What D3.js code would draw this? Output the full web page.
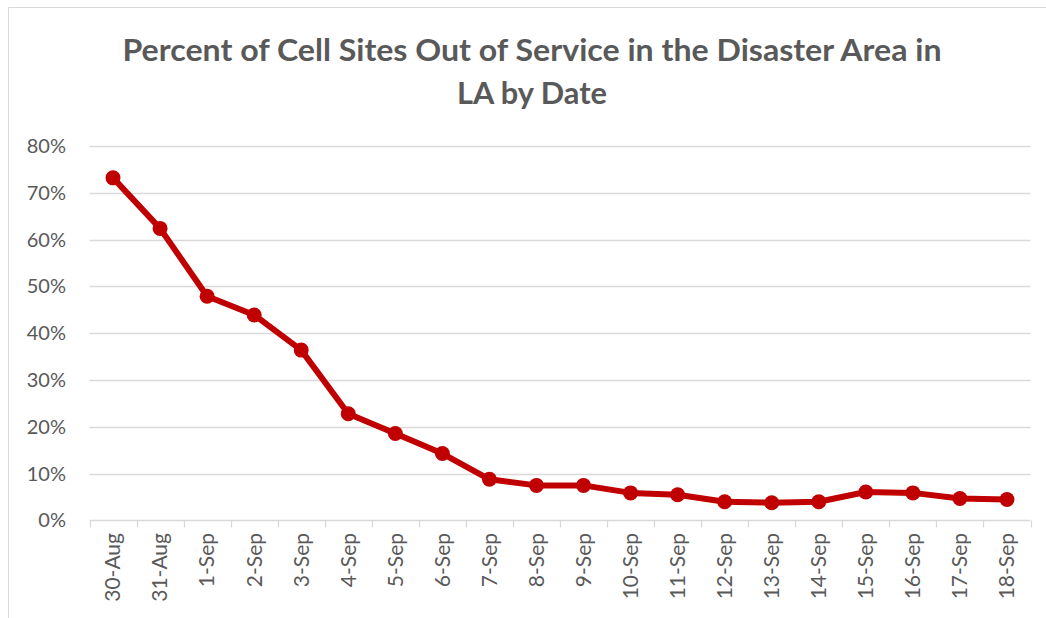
<!DOCTYPE html>
<html>
<head>
<meta charset="utf-8">
<script src="https://cdn.jsdelivr.net/npm/d3@7"></script>
<style>
  html, body { margin: 0; padding: 0; background: #fff; }
  svg { display: block; }
</style>
</head>
<body>
<svg id="chart" width="1046" height="618"></svg>
<script>
const categories = ["30-Aug","31-Aug","1-Sep","2-Sep","3-Sep","4-Sep","5-Sep","6-Sep","7-Sep","8-Sep","9-Sep","10-Sep","11-Sep","12-Sep","13-Sep","14-Sep","15-Sep","16-Sep","17-Sep","18-Sep"];
const values = [0.732,0.624,0.479,0.439,0.364,0.228,0.186,0.143,0.088,0.075,0.075,0.059,0.055,0.040,0.038,0.040,0.061,0.059,0.047,0.045];
const yTicks = [0,0.1,0.2,0.3,0.4,0.5,0.6,0.7,0.8];
const titleLines = ["Percent of Cell Sites Out of Service in the Disaster Area in", "LA by Date"];

const svg = d3.select("#chart");
const W = 1046, H = 618;
const plot = {left: 89.5, right: 1030.5, top: 146, bottom: 520.5};
const FONT = "Lato, 'Open Sans', sans-serif";

// chart border
svg.append("path")
  .attr("d", `M8.5,${H} L8.5,7.5 L${W},7.5`)
  .attr("fill", "none").attr("stroke", "#d9d9d9").attr("stroke-width", 1);

// title
const title = svg.append("g").attr("font-family", FONT)
  .attr("font-weight", "bold").attr("font-size", 30).attr("fill", "#595959")
  .attr("text-anchor", "middle");
title.append("text").attr("x", 532).attr("y", 61).text(titleLines[0])
  .attr("textLength", 819).attr("lengthAdjust", "spacingAndGlyphs");
title.append("text").attr("x", 532).attr("y", 104).text(titleLines[1])
  .attr("textLength", 150).attr("lengthAdjust", "spacingAndGlyphs");

const x = d3.scaleBand().domain(categories).range([plot.left, plot.right]).paddingInner(0).paddingOuter(0);
const y = d3.scaleLinear().domain([0, 0.8]).range([plot.bottom, plot.top]);

// gridlines
svg.append("g").selectAll("line").data(yTicks.filter(d => d > 0)).join("line")
  .attr("x1", plot.left).attr("x2", plot.right)
  .attr("y1", d => Math.round(y(d)) + 0.5).attr("y2", d => Math.round(y(d)) + 0.5)
  .attr("stroke", "#d9d9d9").attr("stroke-width", 1.3);

// y axis labels
const yAxis = d3.axisLeft(y).tickValues(yTicks).tickFormat(d3.format(".0%")).tickSize(0).tickPadding(0);
const gy = svg.append("g").attr("transform", `translate(66,0)`).call(yAxis);
gy.select(".domain").remove();
gy.selectAll("text").attr("font-family", FONT).attr("font-size", 20)
  .attr("fill", "#595959");

// x axis
const boundaries = categories.map(c => x(c)).concat([plot.right]);
svg.append("line").attr("x1", plot.left).attr("x2", plot.right)
  .attr("y1", plot.bottom).attr("y2", plot.bottom)
  .attr("stroke", "#d9d9d9").attr("stroke-width", 1.3);
svg.append("g").selectAll("line").data(boundaries).join("line")
  .attr("x1", d => Math.round(d) + 0.5).attr("x2", d => Math.round(d) + 0.5)
  .attr("y1", plot.bottom).attr("y2", plot.bottom + 7)
  .attr("stroke", "#d9d9d9").attr("stroke-width", 1.3);

const xAxis = d3.axisBottom(x).tickSize(0).tickPadding(0);
const gx = svg.append("g").attr("transform", `translate(0,${plot.bottom})`).call(xAxis);
gx.select(".domain").remove();
gx.selectAll("text")
  .attr("font-family", FONT).attr("font-size", 21).attr("fill", "#595959")
  .attr("transform", "rotate(-90)")
  .attr("text-anchor", "end")
  .attr("x", -12.5).attr("y", 0).attr("dy", "0.35em");

// line
const line = d3.line().x((d, i) => x(categories[i]) + x.bandwidth() / 2).y(d => y(d));
svg.append("path").datum(values).attr("d", line)
  .attr("fill", "none").attr("stroke", "#c00000").attr("stroke-width", 6)
  .attr("stroke-linejoin", "round");

svg.append("g").selectAll("circle").data(values).join("circle")
  .attr("cx", (d, i) => x(categories[i]) + x.bandwidth() / 2)
  .attr("cy", d => y(d)).attr("r", 7.5).attr("fill", "#c00000");
</script>
</body>
</html>
